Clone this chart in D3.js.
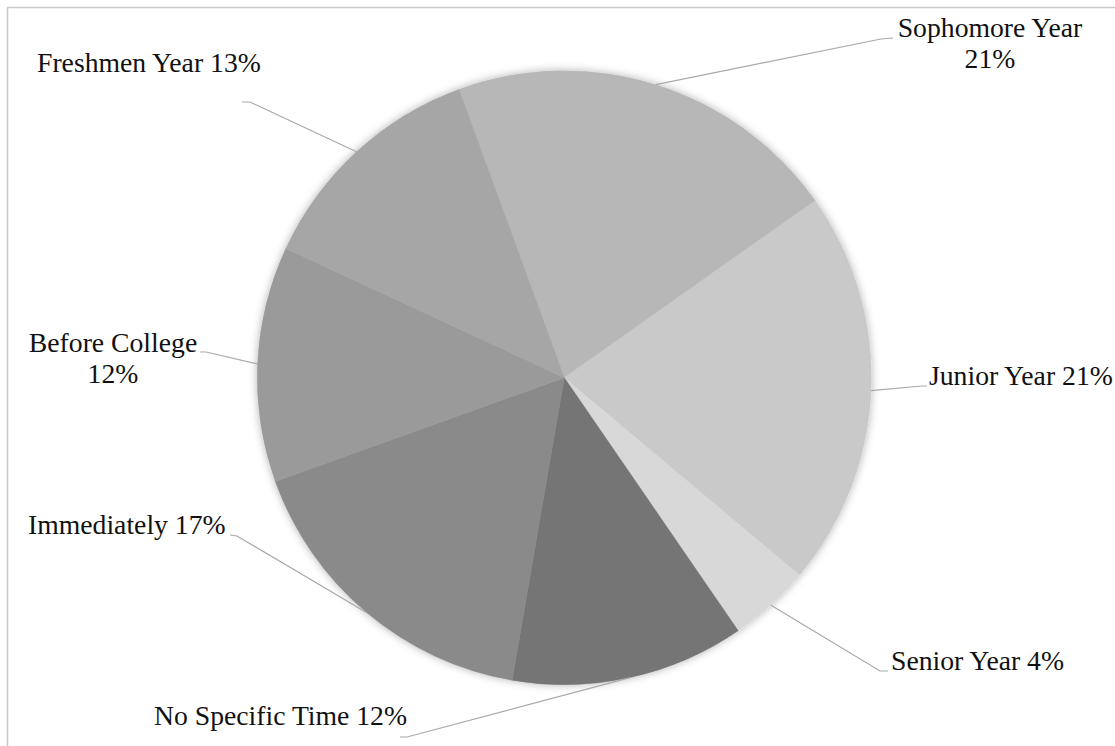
<!DOCTYPE html>
<html>
<head>
<meta charset="utf-8">
<script src="https://cdn.jsdelivr.net/npm/d3@7"></script>
<style>
  html, body { margin: 0; padding: 0; background: #fff; }
  svg { display: block; }
  .lbl { font-family: 'Liberation Serif', 'DejaVu Serif', serif; font-size: 27.7px; }
</style>
</head>
<body>
<div id="chart"></div>
<script>
// slice data, clockwise from the top-left edge of Sophomore Year
const categories = [
  'Sophomore Year',
  'Junior Year',
  'Senior Year',
  'No Specific Time',
  'Immediately',
  'Before College',
  'Freshmen Year',
];
const shares = [20.8, 20.9, 4.3, 12.3, 16.8, 12.4, 12.5];
const shades = ['#b7b7b7', '#c9c9c9', '#d8d8d8', '#747474', '#8a8a8a', '#9a9a9a', '#a6a6a6'];

// where each data label sits (dragged by hand in the original), and its leader stub
const labelLayout = {
  'Sophomore Year': { x: 990, y: 37, anchor: 'middle', split: true, stub: [[893, 38], [881, 39]] },
  'Junior Year': { x: 929, y: 385, anchor: 'start', split: false, stub: [[927, 386], [922, 386]] },
  'Senior Year': { x: 891, y: 670, anchor: 'start', split: false, stub: [[888, 671], [880, 671]] },
  'No Specific Time': { x: 154, y: 725, anchor: 'start', split: false, stub: [[400, 737], [407, 737]] },
  'Immediately': { x: 28, y: 534, anchor: 'start', split: false, stub: [[230, 535], [237, 536]] },
  'Before College': { x: 113, y: 352, anchor: 'middle', split: true, stub: [[200, 352], [206, 352]] },
  'Freshmen Year': { x: 37, y: 72, anchor: 'start', split: false, stub: [[242, 102], [250, 102]] },
};

const size = { width: 1115, height: 746 };
const center = { x: 564.3, y: 377.7 };
const radius = 307;
const startDeg = -20.1;

const rows = categories.map((c, i) => ({ cat: c, value: shares[i], color: shades[i] }));

const svg = d3.select('#chart')
  .append('svg')
  .attr('width', size.width)
  .attr('height', size.height);

// chart frame (only its top and left edges are inside the picture)
svg.append('rect')
  .attr('x', 7.5)
  .attr('y', 7.5)
  .attr('width', size.width)
  .attr('height', size.height)
  .attr('fill', 'none')
  .attr('stroke', '#c8c8c8')
  .attr('stroke-width', 1.5);

const defs = svg.append('defs');
const shadow = defs.append('filter')
  .attr('id', 'soft')
  .attr('x', '-10%')
  .attr('y', '-10%')
  .attr('width', '120%')
  .attr('height', '120%');
shadow.append('feDropShadow')
  .attr('dx', 0)
  .attr('dy', 0)
  .attr('stdDeviation', 4)
  .attr('flood-color', '#000')
  .attr('flood-opacity', 0.3);

const startRad = (startDeg * Math.PI) / 180;
const pie = d3.pie()
  .sort(null)
  .value((d) => d.value)
  .startAngle(startRad)
  .endAngle(startRad + 2 * Math.PI);

const arcs = pie(rows);
const arc = d3.arc().innerRadius(0).outerRadius(radius);
const edge = d3.arc().innerRadius(radius).outerRadius(radius);

const g = svg.append('g').attr('transform', `translate(${center.x},${center.y})`);

g.append('g')
  .attr('filter', 'url(#soft)')
  .selectAll('path')
  .data(arcs)
  .join('path')
  .attr('d', arc)
  .attr('fill', (d) => d.data.color)
  .attr('stroke', (d) => d.data.color)
  .attr('stroke-width', 0.5);

// leader lines: label stub, then to the rim at the middle of the slice
const leader = d3.line();
svg.append('g')
  .selectAll('path')
  .data(arcs)
  .join('path')
  .attr('d', (d) => {
    const lay = labelLayout[d.data.cat];
    const [ex, ey] = edge.centroid(d);
    return leader([...lay.stub, [center.x + ex, center.y + ey]]);
  })
  .attr('fill', 'none')
  .attr('stroke', '#a9a9a9')
  .attr('stroke-width', 1.2);

const labels = svg.append('g')
  .attr('class', 'lbl')
  .attr('fill', '#111');

arcs.forEach((d) => {
  const lay = labelLayout[d.data.cat];
  const pct = `${Math.round(d.data.value)}%`;
  const lines = lay.split ? [d.data.cat, pct] : [`${d.data.cat} ${pct}`];
  const t = labels.append('text')
    .attr('x', lay.x)
    .attr('y', lay.y)
    .attr('text-anchor', lay.anchor);
  lines.forEach((s, i) => {
    t.append('tspan')
      .attr('x', lay.x)
      .attr('dy', i === 0 ? 0 : 31)
      .text(s);
  });
});
</script>
</body>
</html>
